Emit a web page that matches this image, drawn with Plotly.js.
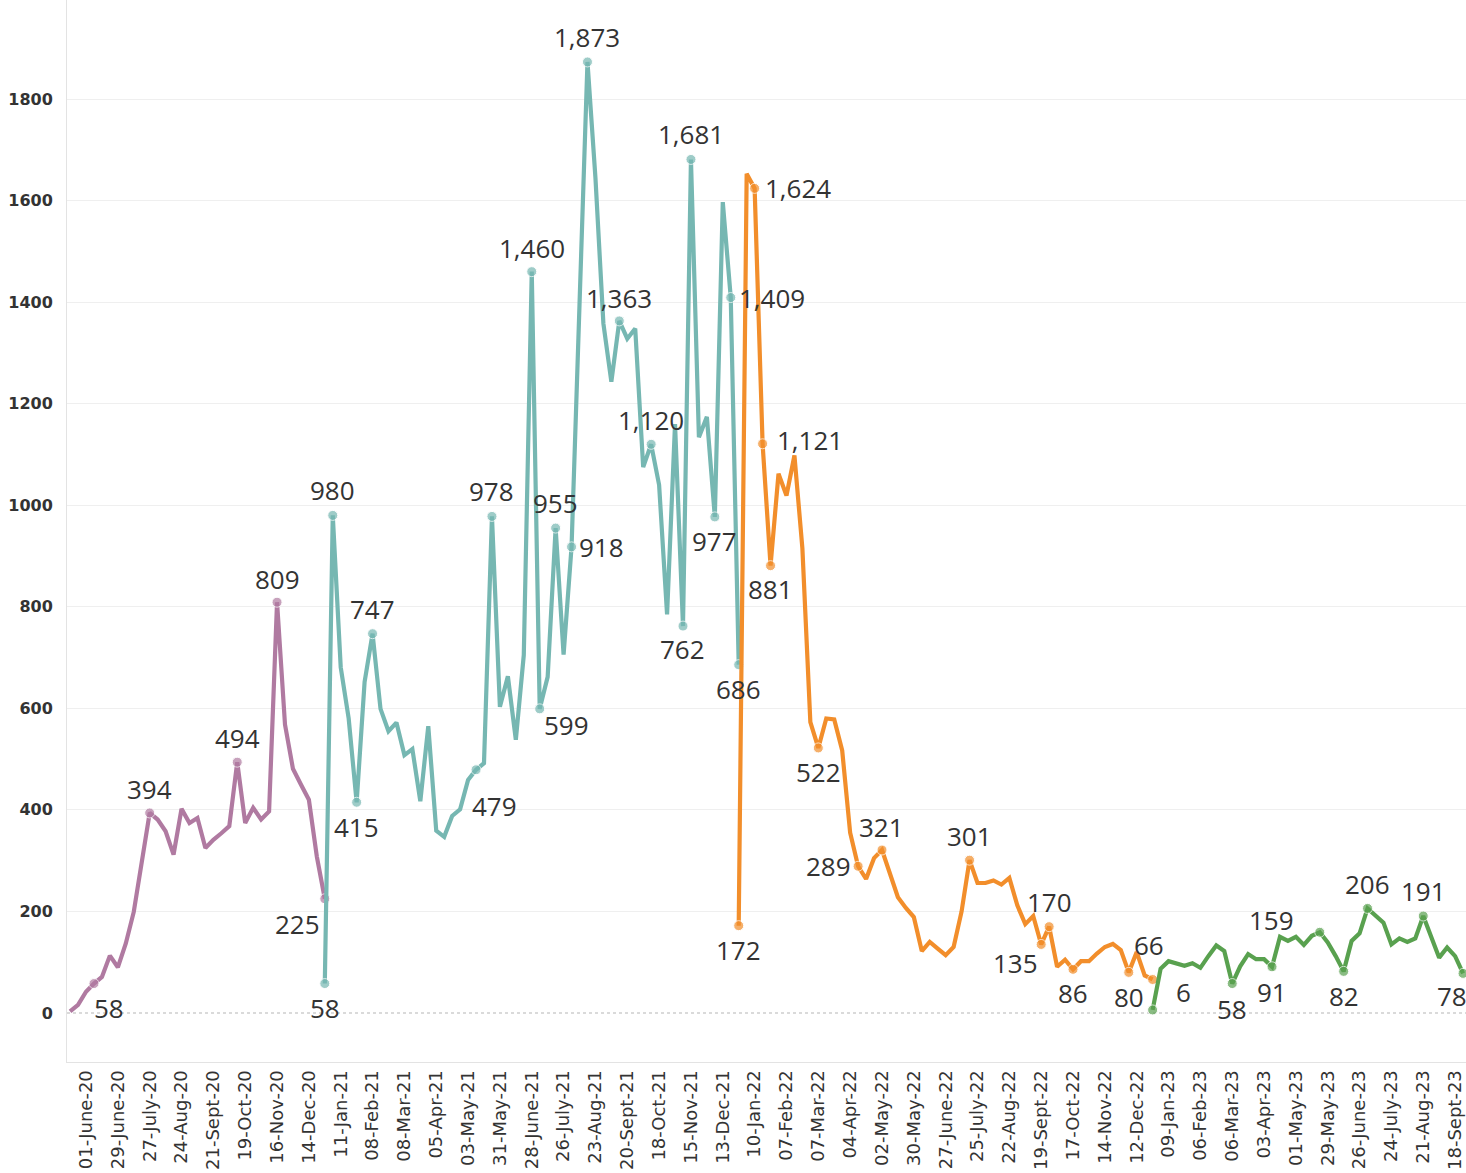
<!DOCTYPE html>
<html>
<head>
<meta charset="utf-8">
<script src="https://cdn.plot.ly/plotly-3.0.1.min.js"></script>
<style>
  html, body { margin: 0; padding: 0; background: #fff; }
  #chart { width: 1466px; height: 1173px; }
</style>
</head>
<body>
<div id="chart"></div>
<script>
// ---- DATA (weekly values) ----
const purpleStart = '2020-05-18';   // 2020 series, first week
const purpleValues = [3, 16, 42, 58, 71, 113, 90, 137, 199, 300, 394, 381, 358, 312, 402, 374, 384,
  325, 341, 354, 368, 494, 374, 404, 381, 397, 809, 568, 481, 450, 420, 308, 225];

const tealStart = '2020-12-28';     // 2021 series
const tealValues = [58, 980, 681, 580, 415, 652, 747, 599, 555, 572, 508, 520, 417, 565, 359, 347,
  388, 401, 459, 479, 492, 978, 603, 663, 538, 705, 1460, 599, 662, 955, 706, 918, 1395, 1873,
  1645, 1358, 1243, 1363, 1328, 1348, 1075, 1120, 1040, 785, 1160, 762, 1681, 1134, 1174, 977,
  1597, 1409, 686];

const orangeStart = '2021-12-27';   // 2022 series
const orangeValues = [172, 1653, 1624, 1121, 881, 1062, 1019, 1098, 915, 573, 522, 580, 578, 517,
  355, 289, 264, 305, 321, 274, 228, 207, 189, 122, 140, 127, 114, 130, 200, 301, 256, 256, 261,
  253, 266, 212, 175, 191, 135, 170, 91, 105, 86, 102, 102, 117, 130, 136, 124, 80, 120, 74, 66];

const greenStart = '2022-12-26';    // 2023 series
const greenValues = [6, 87, 102, 98, 93, 98, 89, 112, 133, 122, 58, 92, 116, 106, 106, 91, 150, 142,
  150, 134, 152, 159, 139, 112, 82, 142, 157, 206, 191, 178, 135, 147, 140, 147, 191, 152, 109,
  129, 112, 78];

const tickLabels = ['01-June-20', '29-June-20', '27-July-20', '24-Aug-20', '21-Sept-20', '19-Oct-20',
  '16-Nov-20', '14-Dec-20', '11-Jan-21', '08-Feb-21', '08-Mar-21', '05-Apr-21', '03-May-21',
  '31-May-21', '28-June-21', '26-July-21', '23-Aug-21', '20-Sept-21', '18-Oct-21', '15-Nov-21',
  '13-Dec-21', '10-Jan-22', '07-Feb-22', '07-Mar-22', '04-Apr-22', '02-May-22', '30-May-22',
  '27-June-22', '25-July-22', '22-Aug-22', '19-Sept-22', '17-Oct-22', '14-Nov-22', '12-Dec-22',
  '09-Jan-23', '06-Feb-23', '06-Mar-23', '03-Apr-23', '01-May-23', '29-May-23', '26-June-23',
  '24-July-23', '21-Aug-23', '18-Sept-23'];

// labelled points: index in series, label offset (styling only)
const purpleLabels = [
  {i: 3, dx: 15, dy: -24}, {i: 10, dx: 0, dy: 24}, {i: 21, dx: 0, dy: 24},
  {i: 26, dx: 0, dy: 23}, {i: 32, dx: -3, dy: -25, anchor: 'right'}];
const tealLabels = [
  {i: 0, dx: 0, dy: -24}, {i: 1, dx: 0, dy: 25}, {i: 4, dx: 0, dy: -25}, {i: 6, dx: 0, dy: 25},
  {i: 19, dx: 18, dy: -36}, {i: 21, dx: 0, dy: 25}, {i: 26, dx: 0, dy: 24}, {i: 27, dx: 27, dy: -16},
  {i: 29, dx: 0, dy: 25}, {i: 31, dx: 5, dy: 0, anchor: 'left'}, {i: 33, dx: 0, dy: 25},
  {i: 37, dx: 0, dy: 23}, {i: 41, dx: 0, dy: 24}, {i: 45, dx: 0, dy: -23}, {i: 46, dx: 0, dy: 25},
  {i: 49, dx: 0, dy: -24}, {i: 51, dx: 6, dy: 0, anchor: 'left'}, {i: 52, dx: 0, dy: -24}];
const orangeLabels = [
  {i: 0, dx: 0, dy: -24}, {i: 2, dx: 8, dy: 0, anchor: 'left'}, {i: 3, dx: 12, dy: 4, anchor: 'left'},
  {i: 4, dx: 0, dy: -23}, {i: 10, dx: 0, dy: -24}, {i: 15, dx: -5, dy: 0, anchor: 'right'},
  {i: 18, dx: 0, dy: 23}, {i: 29, dx: 0, dy: 24}, {i: 38, dx: -1, dy: -19, anchor: 'right'},
  {i: 39, dx: 0, dy: 25}, {i: 42, dx: 0, dy: -24}, {i: 49, dx: 0, dy: -25}, {i: 52, dx: -4, dy: 34}];
const greenLabels = [
  {i: 0, dx: 21, dy: 18, anchor: 'left'}, {i: 10, dx: 0, dy: -25}, {i: 15, dx: 0, dy: -25},
  {i: 21, dx: -24, dy: 12, anchor: 'right'}, {i: 24, dx: 0, dy: -25}, {i: 27, dx: 0, dy: 24},
  {i: 34, dx: 0, dy: 25}, {i: 39, dx: -11, dy: -23}];

// ---- helpers ----
const DAY = 86400000;
function weekDates(start, n) {
  const t0 = Date.parse(start + 'T00:00:00Z');
  const out = [];
  for (let k = 0; k < n; k++) out.push(new Date(t0 + k * 7 * DAY).toISOString().slice(0, 10));
  return out;
}
const MONTHS = {Jan: 0, Feb: 1, Mar: 2, Apr: 3, May: 4, June: 5, July: 6, Aug: 7, Sept: 8, Oct: 9, Nov: 10, Dec: 11};
function labelToDate(s) {
  const p = s.split('-');
  return new Date(Date.UTC(2000 + Number(p[2]), MONTHS[p[1]], Number(p[0]))).toISOString().slice(0, 10);
}
const tickVals = tickLabels.map(labelToDate);

const series = [
  {start: purpleStart, values: purpleValues, labels: purpleLabels, color: '#B07AA1'},
  {start: tealStart, values: tealValues, labels: tealLabels, color: '#76B7B2'},
  {start: orangeStart, values: orangeValues, labels: orangeLabels, color: '#F28E2B'},
  {start: greenStart, values: greenValues, labels: greenLabels, color: '#59A14F'}
];

const traces = [];
const annotations = [];
series.forEach(s => {
  const x = weekDates(s.start, s.values.length);
  const labelled = new Set(s.labels.map(l => l.i));
  traces.push({
    type: 'scatter', mode: 'lines+markers', x: x, y: s.values,
    line: {color: s.color, width: 4.2},
    marker: {color: s.color, size: s.values.map((v, k) => labelled.has(k) ? 10 : 0)},
    hoverinfo: 'skip', cliponaxis: false
  });
  s.labels.forEach(l => {
    annotations.push({
      x: x[l.i], y: s.values[l.i], xref: 'x', yref: 'y',
      text: s.values[l.i].toLocaleString('en-US'),
      showarrow: false, xanchor: l.anchor || 'center', yanchor: 'middle',
      xshift: l.dx, yshift: l.dy,
      font: {family: 'Open Sans, sans-serif', size: 26, color: '#333333'}
    });
  });
});

const layout = {
  width: 1466, height: 1173,
  margin: {l: 67, r: 0, t: 0, b: 111},
  paper_bgcolor: '#ffffff', plot_bgcolor: '#ffffff',
  showlegend: false,
  xaxis: {
    type: 'date',
    range: ['2020-05-15 07:00', '2023-09-27 14:00'],
    tickmode: 'array', tickvals: tickVals, ticktext: tickLabels,
    tickangle: -90,
    tickfont: {family: 'DejaVu Sans, sans-serif', size: 18, color: '#333333'},
    showgrid: false, zeroline: false,
    showline: true, linecolor: '#e3e3e3', linewidth: 1,
    ticks: ''
  },
  yaxis: {
    range: [-96.5, 1995],
    tickmode: 'array', tickvals: [0, 200, 400, 600, 800, 1000, 1200, 1400, 1600, 1800],
    tickfont: {family: 'DejaVu Sans, sans-serif', size: 16, color: '#333333', weight: 'bold'},
    showgrid: true, gridcolor: '#efefef', gridwidth: 1,
    zeroline: true, zerolinecolor: 'rgba(0,0,0,0)',
    showline: true, linecolor: '#e3e3e3', linewidth: 1,
    ticks: '', ticklabelstandoff: 10
  },
  shapes: [{
    type: 'line', xref: 'paper', yref: 'y', x0: 0, x1: 1, y0: 0, y1: 0,
    line: {color: '#b5b5b5', width: 1, dash: 'dot'}, layer: 'below'
  }],
  annotations: annotations
};

Plotly.newPlot('chart', traces, layout, {displayModeBar: false, staticPlot: true});
</script>
</body>
</html>
